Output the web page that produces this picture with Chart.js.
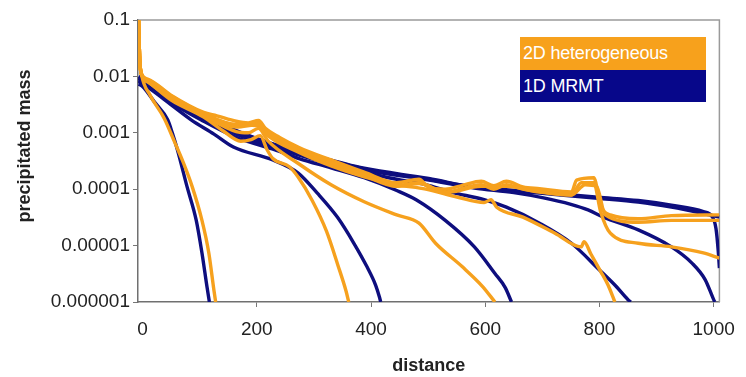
<!DOCTYPE html>
<html>
<head>
<meta charset="utf-8">
<script src="https://cdn.jsdelivr.net/npm/chart.js@4.4.1/dist/chart.umd.min.js"></script>
<style>
  html, body { margin: 0; padding: 0; background: #fff; }
  #wrap { position: relative; width: 746px; height: 377px; }
  .key { position: absolute; left: 520px; width: 186px; color: #fff;
         font: 18px "Liberation Sans", Arial, sans-serif; line-height: 32px;
         padding-left: 3px; box-sizing: border-box; letter-spacing: -0.2px; }
  #k1 { top: 37px; height: 33px; background: #f7a11c; }
  #k2 { top: 70px; height: 32px; background: #07078a; }
</style>
</head>
<body>
<div id="wrap">
  <canvas id="chart" width="746" height="377"></canvas>
  <div class="key" id="k1">2D heterogeneous</div>
  <div class="key" id="k2">1D MRMT</div>
</div>
<script>
// axis ticks
const xTicks = [0, 200, 400, 600, 800, 1000];
const yTicks = [1e-6, 1e-5, 1e-4, 1e-3, 1e-2, 1e-1];
const yTickLabels = ["0.000001", "0.00001", "0.0001", "0.001", "0.01", "0.1"];

// 1D MRMT curves [distance, precipitated mass]
const mrmtA = [[-7, 7.3e-3], [0, 6.6e-3], [21, 3.5e-3], [44, 1.7e-3], [52, 1.0e-3], [61, 5.0e-4], [78, 1.1e-4], [94, 2.8e-5], [104, 7.4e-6], [113, 1.8e-6], [117, 1e-6]];
const mrmtB = [[-7, 8.1e-3], [10, 6.3e-3], [49, 3.2e-3], [85, 1.7e-3], [125, 9.5e-4], [159, 5.6e-4], [228, 3.3e-4], [272, 1.95e-4], [306, 8.5e-5], [341, 3.2e-5], [370, 1.1e-5], [393, 4.2e-6], [408, 2e-6], [415, 1.2e-6], [417, 1e-6]];
const mrmtC = [[-7, 8.5e-3], [10, 7.1e-3], [49, 3.5e-3], [107, 1.6e-3], [164, 8.3e-4], [232, 5e-4], [274, 3.5e-4], [330, 2.4e-4], [388, 1.6e-4], [445, 9.5e-5], [479, 6.5e-5], [530, 2.8e-5], [581, 9.5e-6], [617, 3.2e-6], [635, 1.8e-6], [646, 1e-6]];
const mrmtD = [[-7, 9.1e-3], [10, 7.6e-3], [49, 3.8e-3], [107, 1.8e-3], [164, 9.5e-4], [220, 6e-4], [295, 3.5e-4], [388, 2e-4], [445, 1.5e-4], [496, 1.2e-4], [540, 8.9e-5], [598, 6.5e-5], [637, 4.8e-5], [695, 2.5e-5], [751, 1.1e-5], [800, 3.7e-6], [829, 1.9e-6], [850, 1.1e-6], [855, 1e-6]];
const mrmtE = [[-7, 9.1e-3], [10, 7.6e-3], [49, 4e-3], [107, 1.86e-3], [164, 1e-3], [220, 6.3e-4], [295, 3.8e-4], [388, 2.2e-4], [501, 1.45e-4], [581, 1.05e-4], [650, 8.7e-5], [700, 7.1e-5], [750, 5.4e-5], [780, 4.3e-5], [807, 3.2e-5], [868, 1.9e-5], [926, 9.5e-6], [962, 4.9e-6], [985, 2.5e-6], [1000, 1.1e-6], [1002, 1e-6]];
const mrmtF = [[-7, 9.5e-3], [10, 7.9e-3], [49, 4.2e-3], [107, 2e-3], [164, 1.07e-3], [220, 6.6e-4], [295, 4e-4], [388, 2.3e-4], [501, 1.5e-4], [581, 1.1e-4], [695, 8.9e-5], [797, 7.2e-5], [868, 6.3e-5], [926, 5.2e-5], [982, 4e-5], [998, 3.2e-5], [1004, 2e-5], [1008, 7.9e-6], [1010, 4e-6]];
const mrmtG = [[-7, 1e-2], [10, 8.1e-3], [49, 4.3e-3], [107, 2.05e-3], [164, 1.1e-3], [220, 6.8e-4], [295, 4.1e-4], [388, 2.35e-4], [501, 1.55e-4], [581, 1.08e-4], [695, 8.5e-5], [797, 6.9e-5], [868, 5.9e-5], [926, 4.8e-5], [982, 3.7e-5], [1010, 3.2e-5]];

// 2D heterogeneous curves
const hetA = [[-7, 0.1], [-5, 0.02], [-2, 1.1e-2], [13, 4.7e-3], [38, 1.8e-3], [56, 6.9e-4], [70, 3.2e-4], [87, 1.1e-4], [104, 2.8e-5], [116, 7.4e-6], [125, 1.6e-6], [128, 1e-6]];
const hetB = [[-7, 0.1], [-5, 0.02], [-2, 1.1e-2], [10, 7.9e-3], [50, 3.8e-3], [107, 1.9e-3], [140, 1.1e-3], [172, 7.1e-4], [190, 7.6e-4], [206, 8.9e-4], [218, 5e-4], [228, 3.5e-4], [257, 2.5e-4], [272, 1.66e-4], [297, 6.3e-5], [322, 1.8e-5], [342, 4.5e-6], [356, 1.6e-6], [361, 1e-6]];
const hetC = [[-7, 0.1], [-5, 0.02], [-2, 1.1e-2], [10, 7.9e-3], [50, 4e-3], [107, 2e-3], [164, 1.05e-3], [185, 1e-3], [203, 1.2e-3], [220, 7.1e-4], [274, 2.8e-4], [330, 1.2e-4], [388, 6e-5], [445, 3.5e-5], [484, 2.5e-5], [513, 1.1e-5], [560, 4.2e-6], [595, 1.9e-6], [617, 1e-6]];
const hetD = [[-7, 0.1], [-5, 0.02], [-2, 1.1e-2], [10, 8.3e-3], [49, 4.4e-3], [107, 2.1e-3], [164, 1.26e-3], [203, 1.4e-3], [220, 8.9e-4], [274, 4.5e-4], [330, 2.6e-4], [388, 1.66e-4], [445, 1.2e-4], [496, 1e-4], [552, 7.2e-5], [598, 5.8e-5], [610, 6.5e-5], [620, 4.8e-5], [666, 3.2e-5], [722, 1.66e-5], [768, 9.5e-6], [773, 1.17e-5], [785, 7.1e-6], [802, 3.5e-6], [815, 2e-6], [827, 1e-6]];
const hetE = [[-7, 0.1], [-5, 0.02], [-2, 1.1e-2], [10, 8.7e-3], [49, 4.6e-3], [107, 2.2e-3], [164, 1.4e-3], [203, 1.5e-3], [220, 1e-3], [274, 5e-4], [330, 3e-4], [388, 1.8e-4], [445, 1.17e-4], [484, 1.3e-4], [530, 8.9e-5], [593, 1.2e-4], [615, 1e-4], [637, 1.2e-4], [666, 1e-4], [695, 9.1e-5], [751, 7.9e-5], [768, 1.3e-4], [790, 1.3e-4], [802, 4e-5], [819, 1.66e-5], [868, 1.1e-5], [926, 9.5e-6], [982, 7.4e-6], [1010, 6e-6]];
const hetF = [[-7, 0.1], [-5, 0.02], [-2, 1.1e-2], [10, 8.9e-3], [49, 4.7e-3], [107, 2.3e-3], [130, 2e-3], [164, 1.6e-3], [185, 1.5e-3], [203, 1.66e-3], [215, 1.2e-3], [240, 8.3e-4], [274, 5.5e-4], [330, 3.3e-4], [388, 2e-4], [445, 1.3e-4], [484, 1.5e-4], [500, 1.1e-4], [530, 1e-4], [560, 1.17e-4], [593, 1.38e-4], [615, 1.15e-4], [637, 1.38e-4], [666, 1.1e-4], [695, 1.02e-4], [751, 8.9e-5], [760, 1.45e-4], [790, 1.6e-4], [802, 5.2e-5], [819, 3.5e-5], [868, 3e-5], [926, 3.4e-5], [1010, 3.5e-5]];
const hetG = [[-7, 0.1], [-5, 0.02], [-2, 1.1e-2], [10, 8.3e-3], [49, 4.3e-3], [107, 2.1e-3], [164, 1.38e-3], [203, 1.32e-3], [220, 8.9e-4], [274, 4.7e-4], [330, 2.8e-4], [388, 1.74e-4], [445, 1.12e-4], [484, 1.26e-4], [530, 8.7e-5], [593, 1.12e-4], [637, 1.12e-4], [695, 8.9e-5], [751, 7.9e-5], [775, 1.2e-4], [795, 1.12e-4], [810, 3.5e-5], [868, 2.6e-5], [926, 2.8e-5], [1010, 2.8e-5]];

const NAVY = "#0e0e7e";
const ORANGE = "#f6a11e";

function line(data, color, order) {
  return {
    data,
    borderColor: color,
    borderWidth: 3.4,
    pointRadius: 0,
    cubicInterpolationMode: "monotone",
    fill: false,
    order,
    borderJoinStyle: "round",
  };
}

// light frame on the top and right of the plot
const frame = {
  id: "frame",
  beforeDatasetsDraw(chart) {
    const { ctx, chartArea: a } = chart;
    ctx.save();
    ctx.strokeStyle = "#9a9a9a";
    ctx.lineWidth = 1.5;
    ctx.beginPath();
    ctx.moveTo(a.left, a.top);
    ctx.lineTo(a.right, a.top);
    ctx.lineTo(a.right, a.bottom);
    ctx.stroke();
    ctx.restore();
  },
};

const font = '"Liberation Sans", Arial, sans-serif';

new Chart(document.getElementById("chart"), {
  type: "line",
  data: {
    datasets: [
      line(hetA, ORANGE, 0), line(hetB, ORANGE, 0), line(hetC, ORANGE, 0),
      line(hetD, ORANGE, 0), line(hetE, ORANGE, 0), line(hetG, ORANGE, 0), line(hetF, ORANGE, 0),
      line(mrmtA, NAVY, 1), line(mrmtB, NAVY, 1), line(mrmtC, NAVY, 1), line(mrmtD, NAVY, 1),
      line(mrmtE, NAVY, 1), line(mrmtF, NAVY, 1), line(mrmtG, NAVY, 1),
    ],
  },
  options: {
    responsive: false,
    animation: false,
    layout: { padding: { left: 0, right: 18, top: 20, bottom: 0 } },
    plugins: { legend: { display: false }, tooltip: { enabled: false } },
    scales: {
      x: {
        type: "linear",
        min: -8,
        max: 1010,
        afterBuildTicks: (s) => { s.ticks = xTicks.map((v) => ({ value: v })); },
        afterFit: (s) => { s.height = 75; },
        grid: {
          drawOnChartArea: false,
          tickLength: 5,
          color: (c) => (c.tick && c.tick.value === 0 ? "rgba(0,0,0,0)" : "#777"),
        },
        border: { color: "#707070", width: 1.5 },
        ticks: { color: "#222", font: { family: font, size: 19 }, padding: 11, maxRotation: 0, callback: (v) => String(v) },
        title: { display: true, text: "distance", color: "#222", font: { family: font, size: 18, weight: "bold" }, padding: { top: 3, bottom: 0 } },
      },
      y: {
        type: "logarithmic",
        min: 1e-6,
        max: 0.1,
        afterBuildTicks: (s) => { s.ticks = yTicks.map((v) => ({ value: v })); },
        afterFit: (s) => { s.width = 138; },
        grid: { drawOnChartArea: false, tickLength: 5, color: "#777" },
        border: { color: "#707070", width: 1.5 },
        ticks: {
          color: "#222",
          font: { family: font, size: 19 },
          padding: 3,
          callback: (v) => yTickLabels[yTicks.indexOf(v)] ?? "",
        },
        title: { display: true, text: "      precipitated mass", color: "#222", font: { family: font, size: 18, weight: "bold" }, padding: { top: 14, bottom: 0 } },
      },
    },
  },
  plugins: [frame],
});
</script>
</body>
</html>
